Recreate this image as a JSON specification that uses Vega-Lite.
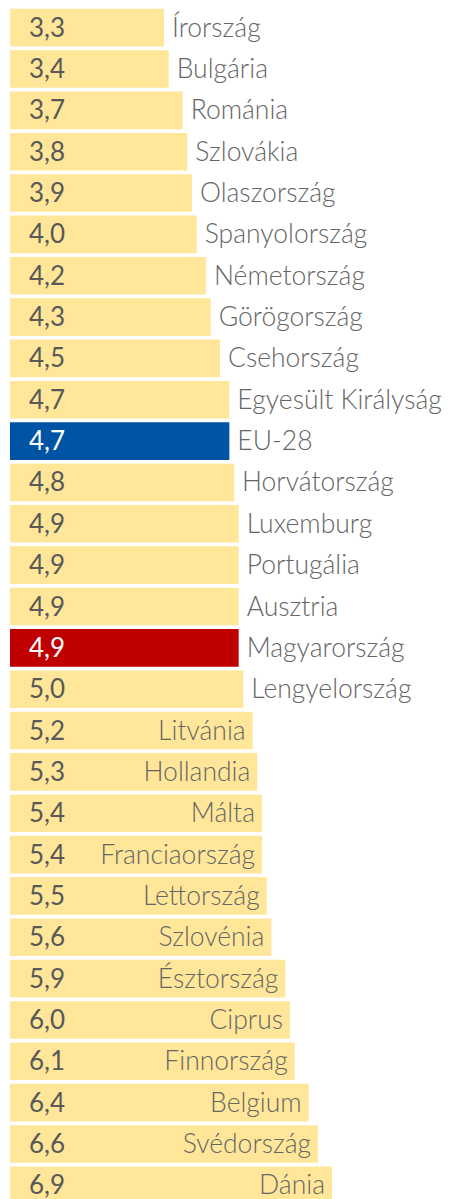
{
  "$schema": "https://vega.github.io/schema/vega-lite/v6.json",
  "width": 439,
  "height": 1199,
  "autosize": {"type": "none"},
  "padding": {"left": 10, "top": 7, "right": 0, "bottom": 0},
  "background": "white",
  "config": {
    "view": {"stroke": null},
    "locale": {"number": {"decimal": ",", "thousands": " ", "grouping": [3], "currency": ["", ""]}}
  },
  "data": {
    "values": [
      {"country": "Írország", "value": 3.3, "type": "other", "pos": "out"},
      {"country": "Bulgária", "value": 3.4, "type": "other", "pos": "out"},
      {"country": "Románia", "value": 3.7, "type": "other", "pos": "out"},
      {"country": "Szlovákia", "value": 3.8, "type": "other", "pos": "out"},
      {"country": "Olaszország", "value": 3.9, "type": "other", "pos": "out"},
      {"country": "Spanyolország", "value": 4.0, "type": "other", "pos": "out"},
      {"country": "Németország", "value": 4.2, "type": "other", "pos": "out"},
      {"country": "Görögország", "value": 4.3, "type": "other", "pos": "out"},
      {"country": "Csehország", "value": 4.5, "type": "other", "pos": "out"},
      {"country": "Egyesült Királyság", "value": 4.7, "type": "other", "pos": "out"},
      {"country": "EU-28", "value": 4.7, "type": "eu", "pos": "out"},
      {"country": "Horvátország", "value": 4.8, "type": "other", "pos": "out"},
      {"country": "Luxemburg", "value": 4.9, "type": "other", "pos": "out"},
      {"country": "Portugália", "value": 4.9, "type": "other", "pos": "out"},
      {"country": "Ausztria", "value": 4.9, "type": "other", "pos": "out"},
      {"country": "Magyarország", "value": 4.9, "type": "hu", "pos": "out"},
      {"country": "Lengyelország", "value": 5.0, "type": "other", "pos": "out"},
      {"country": "Litvánia", "value": 5.2, "type": "other", "pos": "in"},
      {"country": "Hollandia", "value": 5.3, "type": "other", "pos": "in"},
      {"country": "Málta", "value": 5.4, "type": "other", "pos": "in"},
      {"country": "Franciaország", "value": 5.4, "type": "other", "pos": "in"},
      {"country": "Lettország", "value": 5.5, "type": "other", "pos": "in"},
      {"country": "Szlovénia", "value": 5.6, "type": "other", "pos": "in"},
      {"country": "Észtország", "value": 5.9, "type": "other", "pos": "in"},
      {"country": "Ciprus", "value": 6.0, "type": "other", "pos": "in"},
      {"country": "Finnország", "value": 6.1, "type": "other", "pos": "in"},
      {"country": "Belgium", "value": 6.4, "type": "other", "pos": "in"},
      {"country": "Svédország", "value": 6.6, "type": "other", "pos": "in"},
      {"country": "Dánia", "value": 6.9, "type": "other", "pos": "in"}
    ]
  },
  "encoding": {
    "y": {"field": "country", "type": "nominal", "sort": null, "axis": null,
          "scale": {"paddingInner": 0.09, "paddingOuter": 0.045}}
  },
  "layer": [
    {
      "mark": {"type": "bar"},
      "encoding": {
        "x": {"field": "value", "type": "quantitative", "axis": null,
              "scale": {"domain": [0, 9.407], "nice": false, "zero": true}},
        "color": {"field": "type", "type": "nominal", "legend": null,
                  "scale": {"domain": ["other", "eu", "hu"], "range": ["#FFE699", "#0054A6", "#C00000"]}}
      }
    },
    {
      "mark": {"type": "text", "align": "left", "baseline": "middle", "dx": 19, "dy": 1, "font": "Lato", "fontSize": 26, "fontWeight": 400},
      "encoding": {
        "x": {"datum": 0, "type": "quantitative"},
        "text": {"field": "value", "type": "quantitative", "format": ".1f"},
        "color": {"condition": {"test": "datum.type !== 'other'", "value": "#FFFFFF"}, "value": "#595959"}
      }
    },
    {
      "transform": [{"filter": "datum.pos === 'out'"}],
      "mark": {"type": "text", "align": "left", "baseline": "middle", "dx": 8, "dy": 1, "font": "Lato", "fontSize": 26.5, "fontWeight": 300, "color": "#666666"},
      "encoding": {
        "x": {"field": "value", "type": "quantitative"},
        "text": {"field": "country"}
      }
    },
    {
      "transform": [{"filter": "datum.pos === 'in'"}],
      "mark": {"type": "text", "align": "right", "baseline": "middle", "dx": -7, "dy": 1, "font": "Lato", "fontSize": 26.5, "fontWeight": 300, "color": "#666666"},
      "encoding": {
        "x": {"field": "value", "type": "quantitative"},
        "text": {"field": "country"}
      }
    }
  ]
}
